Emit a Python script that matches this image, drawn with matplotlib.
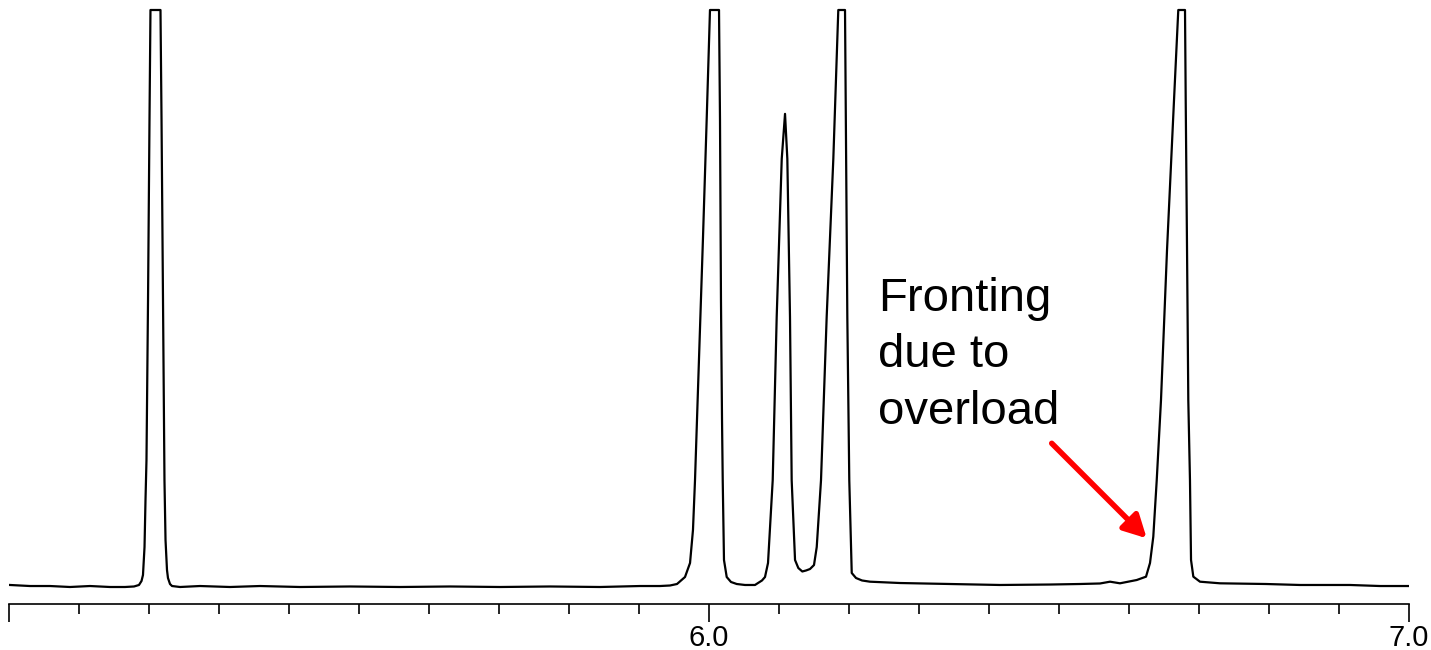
import numpy as np
import matplotlib
matplotlib.use("Agg")
import matplotlib.pyplot as plt
from matplotlib.ticker import MultipleLocator

plt.rcParams['font.family'] = ['Liberation Sans', 'DejaVu Sans']

# クロマトグラム (読み取り値): 保持時間 [min], 信号 [任意単位, 飽和 = 100]
time_min = [
    5.0014, 5.0300, 5.0586, 5.0871, 5.1157, 5.1443, 5.1657, 5.1786, 5.1857, 5.1893,
    5.1914, 5.1936, 5.1950, 5.1964, 5.1986, 5.2007, 5.2021, 5.2164, 5.2179, 5.2200,
    5.2221, 5.2236, 5.2257, 5.2271, 5.2300, 5.2329, 5.2443, 5.2729, 5.3157, 5.3586,
    5.4157, 5.4871, 5.5586, 5.6300, 5.7014, 5.7729, 5.8443, 5.9014, 5.9300, 5.9443,
    5.9543, 5.9657, 5.9729, 5.9771, 5.9800, 5.9839, 5.9914, 5.9967, 6.0014, 6.0143,
    6.0157, 6.0171, 6.0186, 6.0196, 6.0214, 6.0253, 6.0314, 6.0396, 6.0514, 6.0657,
    6.0700, 6.0757, 6.0800, 6.0843, 6.0910, 6.0967, 6.1039, 6.1086, 6.1119, 6.1157,
    6.1181, 6.1229, 6.1276, 6.1333, 6.1386, 6.1443, 6.1500, 6.1539, 6.1600, 6.1681,
    6.1776, 6.1847, 6.1943, 6.1976, 6.2004, 6.2039, 6.2100, 6.2186, 6.2300, 6.2729,
    6.3443, 6.4157, 6.4871, 6.5300, 6.5586, 6.5729, 6.5871, 6.6110, 6.6243, 6.6300,
    6.6347, 6.6396, 6.6457, 6.6543, 6.6643, 6.6704, 6.6800, 6.6810, 6.6829, 6.6847,
    6.6871, 6.6886, 6.6919, 6.7014, 6.7300, 6.7957, 6.8443, 6.9157, 6.9586, 7.0000,
]
signal = [
    0.35, 0.17, 0.17, 0.00, 0.17, 0.00, 0.00, 0.09, 0.35, 1.04,
    2.08, 6.93, 15.1, 22.0, 49.7, 80.9, 100.0, 100.0, 80.9, 49.7,
    18.5, 8.15, 2.95, 1.56, 0.52, 0.17, 0.00, 0.17, 0.00, 0.17,
    0.00, 0.09, 0.00, 0.09, 0.00, 0.09, 0.00, 0.17, 0.17, 0.26,
    0.52, 1.73, 4.16, 9.88, 18.5, 32.9, 60.5, 81.1, 100.0, 100.0,
    81.1, 49.7, 28.9, 18.5, 4.68, 1.73, 0.87, 0.52, 0.35, 0.35,
    0.69, 1.13, 1.73, 4.16, 18.5, 46.8, 74.2, 82.0, 74.2, 46.8,
    18.5, 4.68, 3.29, 2.69, 2.86, 3.12, 3.81, 6.93, 18.5, 46.8,
    74.2, 100.0, 100.0, 46.8, 18.5, 2.43, 1.56, 1.13, 0.92, 0.69,
    0.52, 0.35, 0.43, 0.52, 0.61, 0.92, 0.64, 1.21, 1.79, 4.16,
    8.72, 18.5, 32.4, 58.4, 84.4, 100.0, 100.0, 84.4, 58.4, 32.4,
    18.5, 4.68, 1.79, 0.92, 0.64, 0.52, 0.35, 0.35, 0.17, 0.17,
]

major_ticks = [5.0, 6.0, 7.0]
major_labels = ["", "6.0", "7.0"]

note_text = "Fronting\ndue to\noverload"
note_pos = (6.2414, 53.8)
arrow_tail = (6.4896, 24.9)
arrow_tip = (6.6253, 8.44)

fig = plt.figure(figsize=(14.31, 6.5), dpi=100)
ax = fig.add_axes([0.00629, 0.07077, 0.97834, 0.92308])

ax.plot(time_min, signal, color="black", lw=1.6, solid_joinstyle="round")

ax.set_xlim(5.0, 7.0)
ax.set_ylim(-2.946, 101.04)

for s in ["top", "left", "right"]:
    ax.spines[s].set_visible(False)
ax.spines["bottom"].set_linewidth(1.2)
ax.set_yticks([])

ax.set_xticks(major_ticks, labels=major_labels)
ax.xaxis.set_minor_locator(MultipleLocator(0.1))
ax.tick_params(axis="x", which="major", length=13, width=1.2, pad=1.5, labelsize=21)
ax.tick_params(axis="x", which="minor", length=7, width=1.2)

ax.text(note_pos[0], note_pos[1], note_text, fontsize=34, va="top", ha="left",
        linespacing=1.38)
ax.annotate("", xy=arrow_tip, xytext=arrow_tail,
            arrowprops=dict(arrowstyle="-|>,head_length=0.68,head_width=0.36",
                            color="red", lw=4, shrinkA=0, shrinkB=0, mutation_scale=20))

fig.savefig("out.png", dpi=100)
